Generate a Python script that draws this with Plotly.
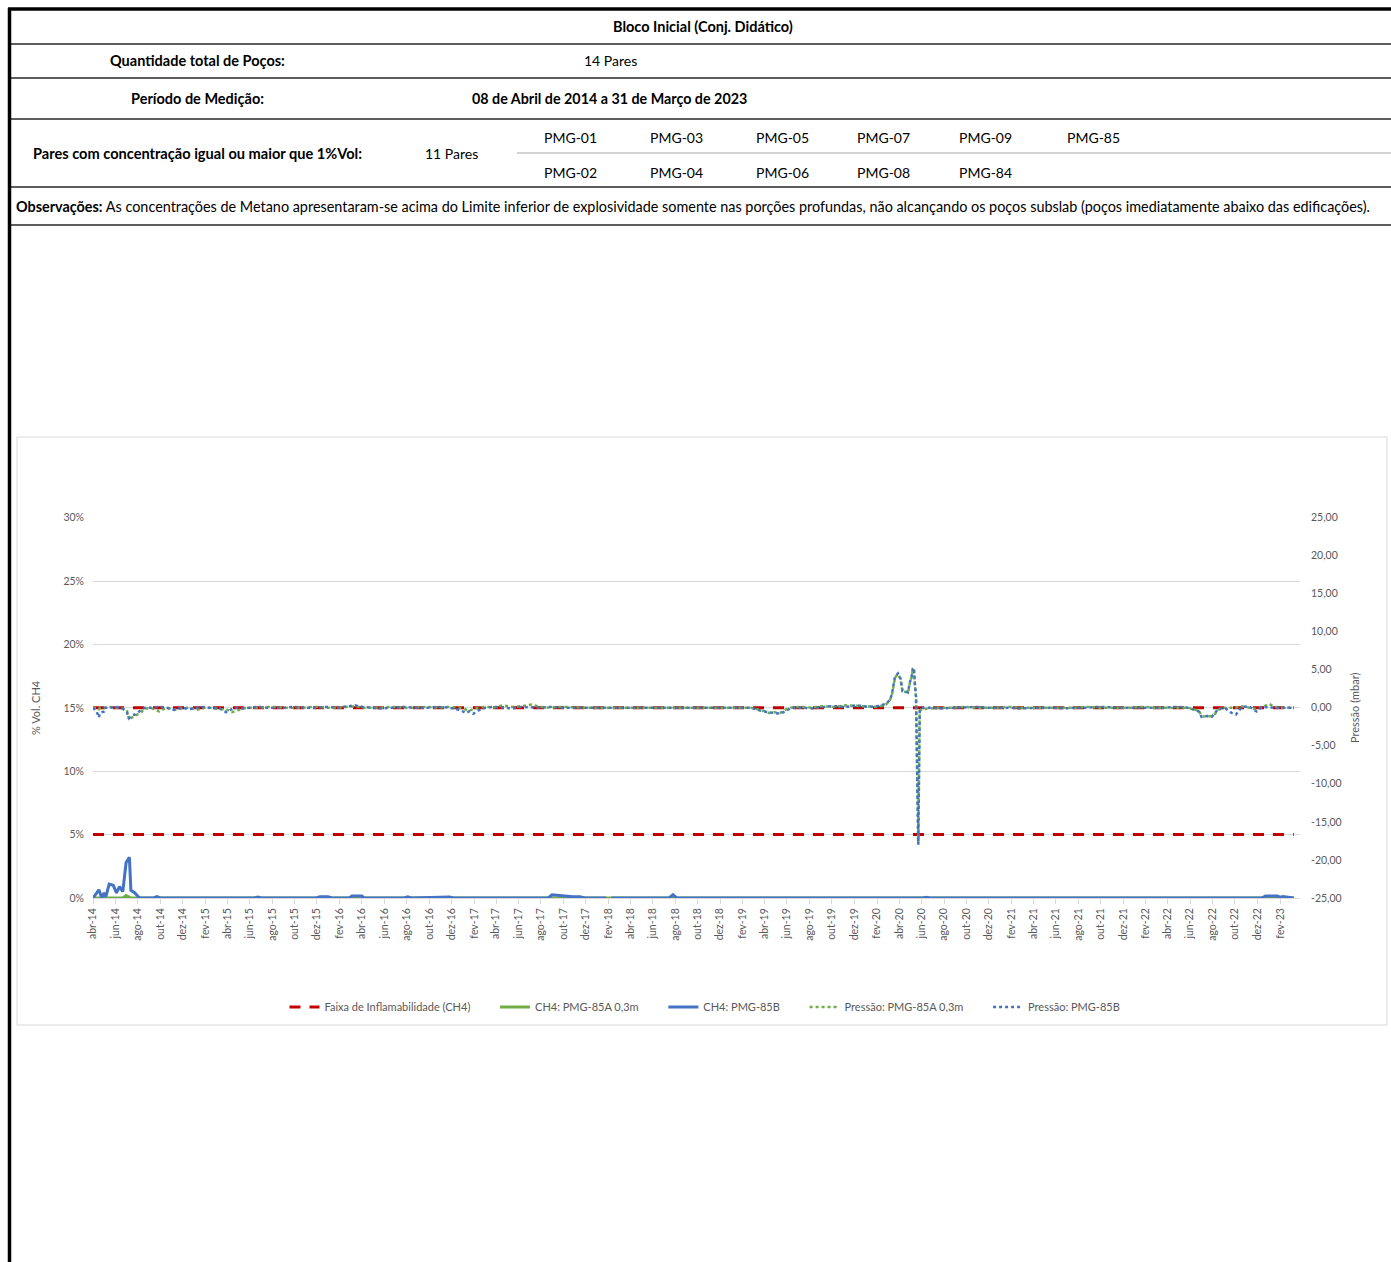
import plotly.graph_objects as go

# ---- page geometry (page pixels -> paper coords; body margin removed in post_script)
W, H = 1391, 1262
OFF = 0


def px(x):
    return (x - OFF) / W


def py(y):
    return 1 - (y - OFF) / H


FONT = "Lato"
GREY = "#595959"
NB = "\u00a0" * 7  # extra room between legend entries

# ---- data
limits_ch4 = [5, 15]  # Faixa de inflamabilidade (% vol)
period = ["2014-04-08", "2023-03-17"]

ch4_dates = [
    "2014-04-08", "2014-04-24", "2014-05-02", "2014-05-08", "2014-05-13", "2014-05-22",
    "2014-06-02", "2014-06-11", "2014-06-19", "2014-06-28", "2014-07-07", "2014-07-16",
    "2014-07-20", "2014-07-31", "2014-08-09", "2014-08-14",
    "2014-09-20", "2014-09-29", "2014-10-08",
    "2015-06-20", "2015-06-30", "2015-07-10",
    "2015-12-06", "2015-12-16", "2016-01-07", "2016-01-17", "2016-03-05", "2016-03-12",
    "2016-04-08", "2016-04-15",
    "2016-08-01", "2016-08-11", "2016-08-21", "2016-12-03", "2016-12-13",
    "2017-08-28", "2017-09-07", "2017-09-18", "2017-10-12", "2017-11-03", "2017-11-22",
    "2017-12-05",
    "2018-02-01", "2018-02-08", "2018-02-15",
    "2018-07-23", "2018-08-02", "2018-08-12",
    "2020-06-11", "2020-06-21", "2020-07-01",
    "2022-12-20", "2022-12-30", "2023-01-20", "2023-02-01", "2023-02-08", "2023-02-15",
    "2023-03-17",
]
ch4_85a = [
    0, 0, 0, 0, 0, 0, 0, 0, 0, 0, 0.2, 0.05, 0, 0, 0, 0,
    0, 0, 0,
    0, 0, 0,
    0, 0, 0, 0, 0, 0, 0, 0,
    0, 0, 0, 0, 0,
    0, 0, 0, 0, 0, 0, 0,
    0, 0, 0,
    0, 0, 0,
    0, 0, 0,
    0, 0, 0, 0, 0, 0, 0,
]
ch4_85b = [
    0, 0.65, 0, 0.4, 0.1, 1.1, 1.0, 0.4, 0.9, 0.5, 2.8, 3.2, 0.6, 0.4, 0.1, 0,
    0, 0.1, 0,
    0, 0.08, 0,
    0, 0.1, 0.1, 0, 0, 0.15, 0.15, 0,
    0, 0.1, 0, 0.08, 0,
    0, 0.25, 0.2, 0.15, 0.1, 0.1, 0,
    0, None, 0,
    0, 0.25, 0,
    0, 0.05, 0,
    0, 0.15, 0.15, 0.15, 0.05, 0.12, 0,
]

p_dates = [
    "2014-04-08", "2014-04-18", "2014-04-24", "2014-04-27", "2014-05-08", "2014-05-11",
    "2014-05-25", "2014-06-10", "2014-06-25", "2014-07-09", "2014-07-15", "2014-07-23",
    "2014-07-31", "2014-08-08", "2014-08-14", "2014-08-19", "2014-08-27",
    "2014-09-15", "2014-10-05", "2014-10-25", "2014-11-15", "2014-12-05", "2014-12-25",
    "2015-01-15", "2015-02-05", "2015-02-25", "2015-03-15", "2015-04-05", "2015-04-20",
    "2015-05-05", "2015-05-20", "2015-06-10", "2015-07-01", "2015-07-25",
    "2015-08-15", "2015-09-10", "2015-10-05", "2015-11-01", "2015-12-01", "2016-01-01",
    "2016-02-01", "2016-03-01", "2016-03-20", "2016-04-10", "2016-05-05", "2016-06-01",
    "2016-07-01", "2016-08-01", "2016-09-01", "2016-10-01", "2016-11-01", "2016-12-01",
    "2016-12-31", "2017-01-15", "2017-01-25", "2017-02-05", "2017-02-18", "2017-03-10",
    "2017-04-01", "2017-04-25", "2017-05-20", "2017-06-15", "2017-07-14", "2017-08-05",
    "2017-09-01", "2017-10-01", "2017-11-01", "2017-12-01", "2018-01-01", "2018-02-01",
    "2018-03-01", "2018-04-01", "2018-05-01", "2018-06-01", "2018-07-01", "2018-08-01",
    "2018-09-01", "2018-10-01", "2018-11-01", "2018-12-01", "2019-01-01", "2019-02-01",
    "2019-03-01",
    "2019-04-04", "2019-04-20", "2019-05-05", "2019-05-20", "2019-06-02", "2019-06-20",
    "2019-07-15", "2019-08-15", "2019-09-15", "2019-10-15", "2019-11-15", "2019-12-15",
    "2020-01-15", "2020-02-10",
    "2020-03-03", "2020-03-14", "2020-03-19", "2020-03-21", "2020-03-25", "2020-03-28",
    "2020-04-05", "2020-04-12", "2020-04-15", "2020-04-17", "2020-04-24", "2020-05-02",
    "2020-05-07", "2020-05-12", "2020-05-15", "2020-05-18", "2020-05-21", "2020-05-24",
    "2020-05-30", "2020-06-03", "2020-06-08",
    "2020-07-01", "2020-08-01", "2020-09-01", "2020-10-01", "2020-11-01", "2020-12-01",
    "2021-01-01", "2021-02-01", "2021-03-01", "2021-04-01", "2021-05-01", "2021-06-01",
    "2021-07-01", "2021-08-01", "2021-09-01", "2021-10-01", "2021-11-01", "2021-12-01",
    "2022-01-01", "2022-02-01", "2022-03-01", "2022-04-01", "2022-05-01", "2022-06-01",
    "2022-07-02", "2022-07-09", "2022-07-23", "2022-08-06", "2022-08-15", "2022-08-23",
    "2022-09-10", "2022-09-29", "2022-10-11", "2022-10-25", "2022-11-15", "2022-12-06",
    "2022-12-20", "2023-01-09", "2023-01-25", "2023-02-10", "2023-03-01", "2023-03-17",
]
p_85a = [
    0.0, 0.0, -0.2, 0.0, -0.1, 0.0, 0.1, 0.0, -0.1, -0.3, -1.6, -1.3, -1.1, -0.9, -0.7, -0.5, -0.1,
    -0.1, -0.5, 0.0, -0.3, -0.1, 0.0, -0.3, 0.0, 0.0, -0.2, -0.2, -0.6, -0.4, -0.1, 0.0, 0.0, 0.1,
    0.1, 0.0, 0.0, 0.0, 0.1, 0.0, 0.0, 0.1, 0.2, 0.0, 0.0, 0.0, 0.1, 0.0, 0.0, 0.1, 0.0, 0.1,
    0.0, -0.2, -0.4, -0.2, 0.0, 0.1, 0.0, 0.3, 0.1, 0.2, 0.4, 0.1, 0.0, 0.1, 0.0, 0.0,
    0.0, 0.0, 0.0, 0.0, 0.0, 0.0, 0.0, 0.0, 0.0, 0.0, 0.0, 0.0, 0.0, 0.0, 0.0,
    -0.4, -0.7, -0.6, -0.7, -0.3, 0.0, 0.1, 0.0, 0.2, 0.1, 0.3, 0.2, 0.1, 0.1,
    0.4, 1.0, 1.6, 2.4, 3.2, 4.0, 4.4, 3.7, 2.9, 2.1, 2.1, 1.9, 3.2, 4.0, 5.0, 5.1, 2.9, 1.3,
    -17.8, -0.4, -0.2,
    -0.1, 0.0, 0.0, 0.1, 0.0, 0.0, 0.0, 0.1, 0.0, 0.0, 0.0, 0.0,
    0.0, 0.0, 0.1, 0.0, 0.0, 0.0, 0.0, 0.1, 0.0, 0.0, 0.0, 0.0,
    -0.4, -1.1, -1.2, -1.1, -0.8, -0.3, 0.0, 0.0, 0.0, 0.2, 0.0, -0.2, 0.0, 0.5, 0.1, 0.0, 0.0, 0.0,
]
p_85b = [
    0.0, -0.5, -1.3, -0.7, -0.5, 0.0, 0.0, 0.1, 0.0, -0.6, -1.4, -1.0, -0.9, -0.6, -0.4, -0.2, 0.0,
    0.0, 0.1, 0.0, -0.3, 0.0, -0.2, 0.0, 0.1, -0.1, 0.0, -0.6, -0.2, 0.0, -0.1, 0.0, 0.1, 0.0,
    0.0, 0.0, 0.1, 0.0, 0.0, 0.1, 0.0, 0.2, 0.3, 0.1, 0.0, -0.1, 0.0, 0.1, 0.0, 0.0, 0.1, 0.0,
    -0.3, -0.7, -0.5, -0.8, -0.4, 0.0, 0.1, 0.0, -0.1, 0.1, 0.0, 0.0, 0.1, 0.0, 0.0, 0.0,
    0.0, 0.0, 0.0, 0.0, 0.0, 0.0, 0.0, 0.0, 0.0, 0.0, 0.0, 0.0, 0.0, 0.0, 0.0,
    -0.5, -0.6, -0.7, -0.8, -0.5, 0.0, 0.0, -0.1, 0.1, 0.2, 0.1, 0.3, 0.1, 0.2,
    0.5, 1.0, 1.7, 2.5, 3.3, 4.1, 4.5, 3.8, 3.0, 2.2, 2.2, 2.0, 3.3, 4.1, 5.1, 5.2, 3.0, 1.4,
    -18.0, -0.5, 0.0,
    0.0, -0.1, 0.0, 0.0, 0.1, 0.0, 0.0, 0.0, -0.1, 0.0, 0.0, 0.0,
    -0.1, 0.0, 0.0, 0.1, 0.0, 0.0, 0.0, 0.0, 0.0, 0.0, 0.1, 0.0,
    -0.5, -1.2, -1.1, -1.2, -0.7, -0.2, 0.0, -0.7, -0.9, 0.0, 0.2, -0.5, 0.1, 0.0, 0.0, 0.0, 0.0, 0.0,
]

month_abbr = ["jan", "fev", "mar", "abr", "mai", "jun", "jul", "ago", "set", "out", "nov", "dez"]
tick_vals, tick_text = [], []
for k in range(0, 108, 2):
    m = 3 + k  # starts at abril/2014
    yr, mo = 2014 + m // 12, m % 12
    tick_vals.append(f"{yr}-{mo + 1:02d}-08")
    tick_text.append(f"{month_abbr[mo]}-{str(yr)[2:]}")

y1_ticks = [0, 5, 10, 15, 20, 25, 30]
y1_text = [f"{v}%" for v in y1_ticks]
y2_ticks = [-25, -20, -15, -10, -5, 0, 5, 10, 15, 20, 25]
y2_text = [f"{v:.2f}".replace(".", ",") for v in y2_ticks]

# ---- traces
fig = go.Figure()
fig.add_trace(go.Scatter(
    x=[period[0], period[1], None, period[0], period[1]],
    y=[limits_ch4[0], limits_ch4[0], None, limits_ch4[1], limits_ch4[1]],
    mode="lines", name="Faixa de Inflamabilidade (CH4)" + NB,
    line=dict(color="#C00000", width=3, dash="11px,9px"),
))
fig.add_trace(go.Scatter(x=ch4_dates, y=ch4_85a, mode="lines", name="CH4: PMG-85A 0,3m" + NB,
                         line=dict(color="#70AD47", width=3)))
fig.add_trace(go.Scatter(x=ch4_dates, y=ch4_85b, mode="lines", name="CH4: PMG-85B" + NB,
                         line=dict(color="#4472C4", width=3)))
fig.add_trace(go.Scatter(x=p_dates, y=p_85a, mode="lines", name="Pressão: PMG-85A 0,3m" + NB,
                         yaxis="y2", line=dict(color="#70AD47", width=2.5, dash="dot")))
fig.add_trace(go.Scatter(x=p_dates, y=p_85b, mode="lines", name="Pressão: PMG-85B",
                         yaxis="y2", line=dict(color="#4472C4", width=2.5, dash="dot")))


# ---- header table
def hline(y, x0, x1, color, width):
    return dict(type="line", xref="paper", yref="paper", x0=px(x0), x1=px(x1), y0=py(y), y1=py(y),
                line=dict(color=color, width=width))


shapes = [
    hline(9, 8, 1395, "black", 3.5),
    dict(type="line", xref="paper", yref="paper", x0=px(9.5), x1=px(9.5), y0=py(8), y1=py(1270),
         line=dict(color="black", width=3.5)),
    dict(type="rect", xref="paper", yref="paper", x0=px(17), x1=px(1387), y0=py(437), y1=py(1025),
         line=dict(color="#d9d9d9", width=1), layer="below"),
    hline(153, 517, 1395, "#a6a6a6", 1),
]
for yy in [44, 78, 119, 187, 225]:
    shapes.append(hline(yy, 11, 1395, "#262626", 1.5))

annots = []


def txt(x, y, s, size=14, anchor="center", bold=False, angle=0, color="black"):
    annots.append(dict(x=px(x), y=py(y), xref="paper", yref="paper", text=f"<b>{s}</b>" if bold else s,
                       showarrow=False, xanchor=anchor, yanchor="middle", textangle=angle,
                       font=dict(family=FONT, size=size, color=color)))


txt(703, 27, "Bloco Inicial (Conj. Didático)", size=14.5, bold=True)
txt(197, 61, "Quantidade total de Poços:", size=14.5, bold=True)
txt(610, 61, "14 Pares")
txt(197, 99, "Período de Medição:", size=14.5, bold=True)
txt(609, 99, "08 de Abril de 2014 a 31 de Março de 2023", size=14.3, bold=True)
txt(197, 153, "Pares com concentração igual ou maior que 1%Vol:", size=14.6, bold=True)
txt(451, 153, "11 Pares")
pmg_row1 = ["PMG-01", "PMG-03", "PMG-05", "PMG-07", "PMG-09", "PMG-85"]
pmg_row2 = ["PMG-02", "PMG-04", "PMG-06", "PMG-08", "PMG-84"]
pmg_x = [570, 676, 782, 883, 985, 1093]
for s, x in zip(pmg_row1, pmg_x):
    txt(x, 137, s)
for s, x in zip(pmg_row2, pmg_x):
    txt(x, 172, s)
txt(14, 206, "<b>Observações:</b> As concentrações de Metano apresentaram-se acima do Limite inferior de "
             "explosividade somente nas porções profundas, não alcançando os poços subslab "
             "(poços imediatamente abaixo das edificações).", size=14.4, anchor="left")

# axis titles
txt(35, 708, "% Vol. CH4", size=11, angle=-90, color=GREY)
txt(1354, 708, "Pressão (mbar)", size=11, angle=-90, color=GREY)

fig.update_layout(
    width=W, height=H, autosize=False,
    margin=dict(l=0, r=0, t=0, b=0, pad=0, autoexpand=False),
    paper_bgcolor="white", plot_bgcolor="white",
    font=dict(family=FONT, size=10, color=GREY),
    showlegend=True,
    legend=dict(orientation="h", x=px(705), xanchor="center", y=py(1007), yanchor="middle",
                font=dict(family=FONT, size=11, color=GREY), bgcolor="rgba(0,0,0,0)",
                itemwidth=30, traceorder="normal"),
    xaxis=dict(type="date", domain=[px(93), px(1300)], range=["2014-04-08", "2023-04-03"],
               tickvals=tick_vals, ticktext=tick_text, tickangle=-90,
               tickfont=dict(family=FONT, size=10.5, color=GREY),
               showgrid=False, showline=True, linecolor="#d9d9d9", linewidth=1,
               ticks="outside", ticklen=5, tickcolor="#d9d9d9", zeroline=False),
    yaxis=dict(domain=[py(898), py(517)], range=[0, 30.05], tickvals=y1_ticks, ticktext=y1_text,
               showgrid=True, gridcolor="#d9d9d9", gridwidth=1, zeroline=False, showline=False,
               tickfont=dict(family=FONT, size=10.5, color=GREY), ticklabelstandoff=8),
    yaxis2=dict(overlaying="y", side="right", range=[-25, 25.04], tickvals=y2_ticks, ticktext=y2_text,
                showgrid=False, zeroline=False, showline=False,
                tickfont=dict(family=FONT, size=10.5, color=GREY), ticklabelstandoff=10),
    shapes=shapes,
    annotations=annots,
)

fig.write_html("out.html", config={"displayModeBar": False},
               post_script="document.body.style.margin='0px';")
